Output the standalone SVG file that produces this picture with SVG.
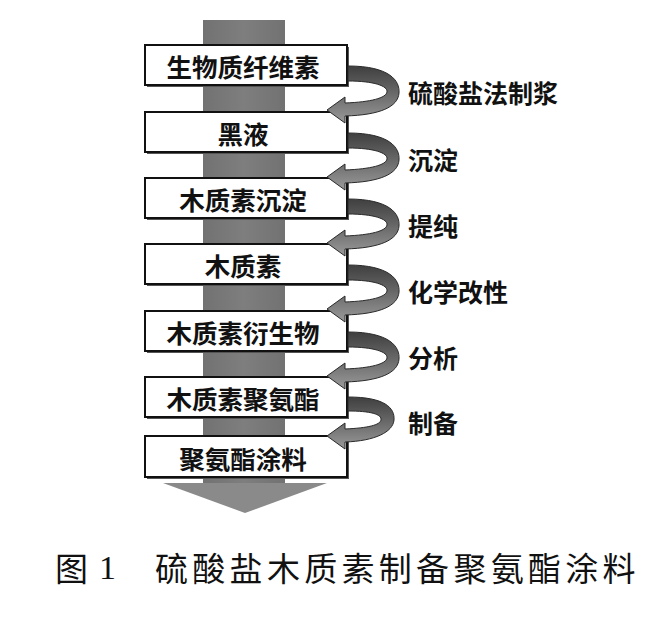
<svg xmlns="http://www.w3.org/2000/svg" width="666" height="620" viewBox="0 0 666 620">
<defs>
<linearGradient id="rib" x1="0" y1="0" x2="0" y2="1">
<stop offset="0" stop-color="#3f3f3f"/>
<stop offset="0.45" stop-color="#666666"/>
<stop offset="1" stop-color="#9a9a9a"/>
</linearGradient>
<linearGradient id="shaft" x1="0" y1="0" x2="1" y2="0">
<stop offset="0" stop-color="#727272"/>
<stop offset="0.5" stop-color="#7e7e7e"/>
<stop offset="1" stop-color="#727272"/>
</linearGradient>
<path id="rib66" d="M 348,21 C 390,21 400,36 399,48 C 398,62 380,70 345,71 L 345,78 L 327,65 L 345,52 L 345,58 C 371,57 386,53 387,47 C 388,41 374,36 348,36 Z"/>
</defs>
<style>
.box{fill:#ffffff;stroke:#111111;stroke-width:2}
.shadow{fill:#555555}
.bt{font-family:"Noto Sans CJK SC",sans-serif;font-size:25.5px;font-weight:bold;fill:#111111;text-anchor:middle;dominant-baseline:central}
.lb{font-family:"Noto Sans CJK SC",sans-serif;font-size:25px;font-weight:bold;fill:#111111;dominant-baseline:central}
.rb{fill:url(#rib);stroke:#2a2a2a;stroke-width:1}
.cap{font-family:"Noto Sans CJK SC",serif;font-size:33px;fill:#111111;dominant-baseline:central}
</style>
<rect width="666" height="620" fill="#ffffff"/>
<g id="main-arrow">
<rect x="203" y="20" width="82" height="464" fill="url(#shaft)"/>
<polygon points="163,483 327,483 245,513" fill="#8a8a8a"/>
</g>
<g id="n1"><rect class="shadow" x="147" y="47" width="202" height="40"/><rect class="box" x="145" y="45" width="202" height="40"/><text class="bt" x="243" y="65">生物质纤维素</text></g>
<g id="n2"><rect class="shadow" x="147" y="114" width="202" height="40"/><rect class="box" x="145" y="112" width="202" height="40"/><text class="bt" x="243" y="132">黑液</text></g>
<g id="n3"><rect class="shadow" x="147" y="180" width="202" height="40"/><rect class="box" x="145" y="178" width="202" height="40"/><text class="bt" x="243" y="198">木质素沉淀</text></g>
<g id="n4"><rect class="shadow" x="147" y="246" width="202" height="40"/><rect class="box" x="145" y="244" width="202" height="40"/><text class="bt" x="243" y="264">木质素</text></g>
<g id="n5"><rect class="shadow" x="147" y="313" width="202" height="40"/><rect class="box" x="145" y="311" width="202" height="40"/><text class="bt" x="243" y="331">木质素衍生物</text></g>
<g id="n6"><rect class="shadow" x="147" y="379" width="202" height="40"/><rect class="box" x="145" y="377" width="202" height="40"/><text class="bt" x="243" y="397">木质素聚氨酯</text></g>
<g id="n7"><rect class="shadow" x="147" y="438" width="202" height="41"/><rect class="box" x="145" y="436" width="202" height="41"/><text class="bt" x="243" y="457">聚氨酯涂料</text></g>
<g id="connectors">
<use href="#rib66" class="rb" transform="translate(0,45)"/>
<use href="#rib66" class="rb" transform="translate(0,112)"/>
<use href="#rib66" class="rb" transform="translate(0,178)"/>
<use href="#rib66" class="rb" transform="translate(0,244)"/>
<use href="#rib66" class="rb" transform="translate(0,311)"/>
<path class="rb" transform="translate(0,377)" d="M 348,20 C 385,20 395,31 394,43 C 393,55 375,64 345,65 L 345,72 L 327,59 L 345,46 L 345,52 C 368,51 380,48 381,43 C 382,37 370,34 348,34 Z"/>
</g>
<g id="labels">
<text class="lb" x="408" y="92">硫酸盐法制浆</text>
<text class="lb" x="408" y="159">沉淀</text>
<text class="lb" x="408" y="225">提纯</text>
<text class="lb" x="408" y="291">化学改性</text>
<text class="lb" x="408" y="357">分析</text>
<text class="lb" x="408" y="422">制备</text>
</g>
<g id="caption">
<text class="cap" x="55" y="567">图</text>
<text x="99" y="567" font-family="Liberation Serif, serif" font-size="34" fill="#111111" dominant-baseline="central">1</text>
<text class="cap" x="155" y="567" letter-spacing="4.3">硫酸盐木质素制备聚氨酯涂料</text>
</g>
</svg>
